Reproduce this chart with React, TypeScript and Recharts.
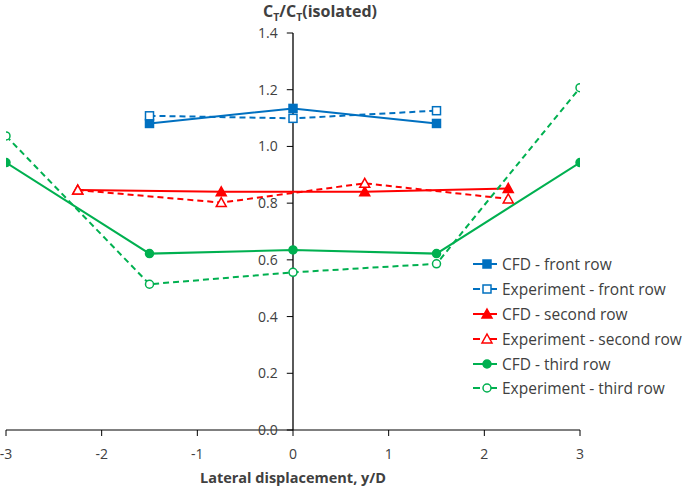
import React from 'react';
import { LineChart, Line, XAxis, YAxis, ReferenceLine, Label } from 'recharts';

// lateral positions (y/D) for each row
const frontX = [-1.5, 0, 1.5];
const secondX = [-2.25, -0.75, 0.75, 2.25];
const thirdX = [-3, -1.5, 0, 1.5, 3];

// CT / CT(isolated) values
const cfdFront = [1.081, 1.134, 1.081];
const expFront = [1.108, 1.099, 1.126];
const cfdSecond = [0.846, 0.84, 0.84, 0.852];
const expSecond = [0.846, 0.802, 0.87, 0.815];
const cfdThird = [0.943, 0.622, 0.635, 0.622, 0.943];
const expThird = [1.037, 0.514, 0.556, 0.586, 1.207];

const xTicks = [-3, -2, -1, 0, 1, 2, 3];
const yTicks = [0, 0.2, 0.4, 0.6, 0.8, 1.0, 1.2, 1.4];

const BLUE = '#0070C0';
const RED = '#FF0000';
const GREEN = '#00B050';
const FONT = '"Open Sans", sans-serif';
const TEXT = '#404040';

const toPoints = (xs: number[], ys: number[]) => xs.map((x, i) => ({ x, y: ys[i] }));

type Shape = 'square' | 'triangle' | 'circle';

const Marker = ({ cx, cy, shape, color, filled }: { cx: number; cy: number; shape: Shape; color: string; filled: boolean }) => {
  const fill = filled ? color : '#fff';
  if (shape === 'square') {
    return <rect x={cx - 4} y={cy - 4} width={8} height={8} fill={fill} stroke={color} strokeWidth={1.5} />;
  }
  if (shape === 'triangle') {
    return <polygon points={`${cx},${cy - 5} ${cx + 5},${cy + 4} ${cx - 5},${cy + 4}`} fill={fill} stroke={color} strokeWidth={1.5} />;
  }
  return <circle cx={cx} cy={cy} r={4} fill={fill} stroke={color} strokeWidth={1.5} />;
};

const series = [
  { name: 'CFD - front row', data: toPoints(frontX, cfdFront), color: BLUE, dashed: false, shape: 'square' as Shape },
  { name: 'Experiment - front row', data: toPoints(frontX, expFront), color: BLUE, dashed: true, shape: 'square' as Shape },
  { name: 'CFD - second row', data: toPoints(secondX, cfdSecond), color: RED, dashed: false, shape: 'triangle' as Shape },
  { name: 'Experiment - second row', data: toPoints(secondX, expSecond), color: RED, dashed: true, shape: 'triangle' as Shape },
  { name: 'CFD - third row', data: toPoints(thirdX, cfdThird), color: GREEN, dashed: false, shape: 'circle' as Shape },
  { name: 'Experiment - third row', data: toPoints(thirdX, expThird), color: GREEN, dashed: true, shape: 'circle' as Shape },
];

const LegendBox = () => (
  <div style={{ position: 'absolute', left: 473, top: 252, fontFamily: FONT, fontSize: 15.5, color: TEXT }}>
    {series.map((s) => (
      <div key={s.name} style={{ display: 'flex', alignItems: 'center', height: 24.8, whiteSpace: 'nowrap' }}>
        <svg width={28} height={14} style={{ marginRight: 1 }}>
          {s.dashed ? (
            <>
              <line x1={0} y1={7} x2={7} y2={7} stroke={s.color} strokeWidth={2} />
              <line x1={15} y1={7} x2={24} y2={7} stroke={s.color} strokeWidth={2} />
            </>
          ) : (
            <line x1={0} y1={7} x2={24} y2={7} stroke={s.color} strokeWidth={2} />
          )}
          <Marker cx={14} cy={7} shape={s.shape} color={s.color} filled={!s.dashed} />
        </svg>
        <span>{s.name}</span>
      </div>
    ))}
  </div>
);

export default function App() {
  return (
    <div style={{ position: 'absolute', left: 0, top: 0, width: 685, height: 488 }}>
      <div
        style={{
          position: 'absolute', left: 0, top: 0, width: 640, textAlign: 'center',
          fontFamily: FONT, fontWeight: 'bold', fontSize: 16, color: TEXT,
        }}
      >
        C<sub style={{ fontSize: 10.5 }}>T</sub>/C<sub style={{ fontSize: 10.5 }}>T</sub>(isolated)
      </div>
      <LineChart width={685} height={488} margin={{ top: 33, right: 105, bottom: 28, left: 6 }}>
        <XAxis
          dataKey="x"
          type="number"
          domain={[-3, 3]}
          ticks={xTicks}
          height={30}
          stroke="#000"
          tickSize={6}
          tickMargin={13}
          tick={{ fill: TEXT, fontSize: 14, fontFamily: FONT }}
          allowDataOverflow
        >
          <Label
            value="Lateral displacement, y/D"
            position="bottom"
            offset={13}
            style={{ fontFamily: FONT, fontWeight: 'bold', fontSize: 14.5, fill: TEXT }}
          />
        </XAxis>
        <YAxis type="number" domain={[0, 1.4]} hide allowDataOverflow />
        <ReferenceLine x={0} stroke="#000" strokeWidth={1.3} />
        {yTicks.map((t) => (
          <ReferenceLine
            key={t}
            segment={[{ x: -0.065, y: t }, { x: 0, y: t }]}
            stroke="#000"
            ifOverflow="visible"
            label={{ value: t.toFixed(1), position: 'left', offset: 9, fill: TEXT, fontSize: 14, fontFamily: FONT }}
          />
        ))}
        {series.map((s) => (
          <Line
            key={s.name}
            name={s.name}
            data={s.data}
            dataKey="y"
            type="linear"
            stroke={s.color}
            strokeWidth={2}
            strokeDasharray={s.dashed ? '6 4' : undefined}
            isAnimationActive={false}
            dot={(p: any) => (
              <Marker key={`${s.name}-${p.index}`} cx={p.cx} cy={p.cy} shape={s.shape} color={s.color} filled={!s.dashed} />
            )}
            activeDot={false}
          />
        ))}
      </LineChart>
      <LegendBox />
    </div>
  );
}
